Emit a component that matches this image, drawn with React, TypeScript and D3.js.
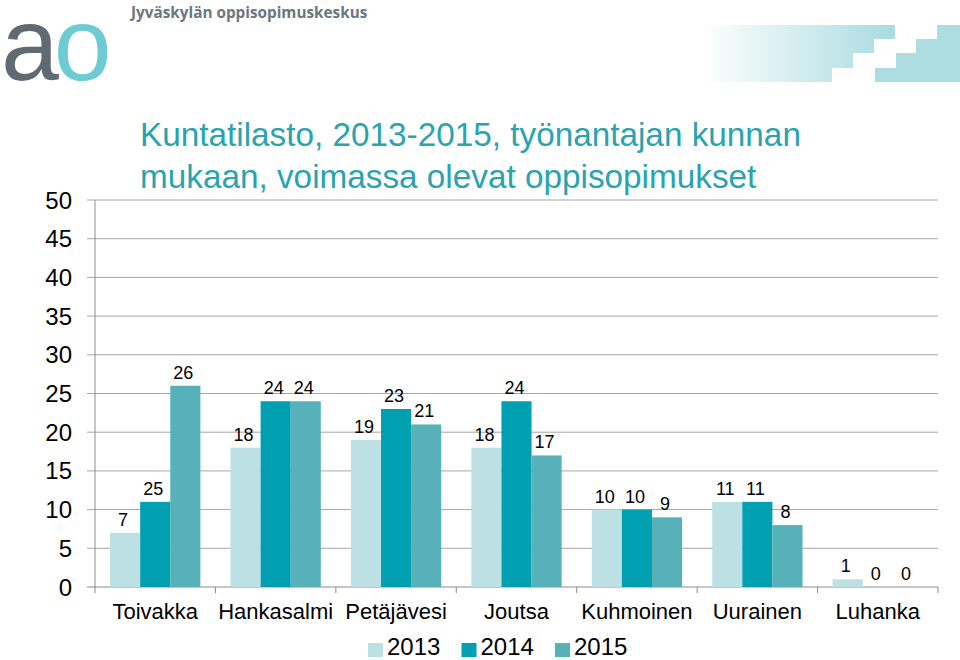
import React from "react";
import * as d3 from "d3";

const categories = ["Toivakka", "Hankasalmi", "Petäjävesi", "Joutsa", "Kuhmoinen", "Uurainen", "Luhanka"];
const series = ["2013", "2014", "2015"];
const values2013 = [7, 18, 19, 18, 10, 11, 1];
const values2014 = [11, 24, 23, 24, 10, 11, 0];
const values2015 = [26, 24, 21, 17, 9, 8, 0];
// data labels as printed in the source chart (Toivakka 2014 is labelled 25)
const labels2013 = ["7", "18", "19", "18", "10", "11", "1"];
const labels2014 = ["25", "24", "23", "24", "10", "11", "0"];
const labels2015 = ["26", "24", "21", "17", "9", "8", "0"];
const yTicks = [0, 5, 10, 15, 20, 25, 30, 35, 40, 45, 50];

const colors = ["#bde0e4", "#00a0b1", "#56b1b9"];
const font = "'Liberation Sans', Arial, sans-serif";

export default function App() {
  const W = 960, H = 660;
  const x0 = 95, x1 = 938, yTop = 200, yBot = 587;
  const x = d3.scaleBand<string>().domain(categories).range([x0, x1]).paddingInner(0).paddingOuter(0);
  const y = d3.scaleLinear().domain([0, 50]).range([yBot, yTop]);
  const inner = d3.scaleBand<string>().domain(series).range([0, x.bandwidth()]).paddingInner(0).paddingOuter(0.5);
  const vals = [values2013, values2014, values2015];
  const labs = [labels2013, labels2014, labels2015];

  return (
    <svg width={W} height={H} style={{ position: "absolute", left: 0, top: 0, background: "#fff" }}>
      <defs>
        <linearGradient id="fadeG" x1="0" x2="1" y1="0" y2="0">
          <stop offset="0" stopColor="#ffffff" />
          <stop offset="1" stopColor="#a9dbe0" />
        </linearGradient>
      </defs>
      <rect x={0} y={0} width={W} height={H} fill="#fff" />
      {/* logo */}
      <text x={1} y={80} fontFamily={font} fontSize={104} fill="#5f6a72" letterSpacing={-5}>
        a<tspan fill="#6ccbd3">o</tspan>
      </text>
      <text x={131} y={18} fontFamily="'Open Sans', sans-serif" fontWeight="bold" fontSize={15.3} fill="#6b767e">
        Jyväskylän oppisopimuskeskus
      </text>
      <polygon
        points="700,25 895,25 895,39 874,39 874,53 853,53 853,68 832,68 832,82 700,82"
        fill="url(#fadeG)"
      />
      <polygon
        points="875,82 875,68 896,68 896,53 916,53 916,39 937,39 937,25 960,25 960,82"
        fill="#aedde1"
      />
      {/* title */}
      <text x={140} y={146} fontFamily={font} fontSize={33.3} fill="#2aa3b1">
        Kuntatilasto, 2013-2015, työnantajan kunnan
      </text>
      <text x={140} y={188} fontFamily={font} fontSize={33.3} fill="#2aa3b1">
        mukaan, voimassa olevat oppisopimukset
      </text>
      {/* gridlines and y axis */}
      {yTicks.map((t) => (
        <g key={t}>
          <line x1={87} x2={x1} y1={y(t)} y2={y(t)} stroke={t === 0 ? "#8c8c8c" : "#a6a6a6"} strokeWidth={1} />
          <text x={72} y={y(t) + 8.5} textAnchor="end" fontFamily={font} fontSize={24} fill="#000">
            {t}
          </text>
        </g>
      ))}
      <line x1={x0} x2={x0} y1={yTop} y2={yBot + 6} stroke="#8c8c8c" />
      {categories.map((c) => (
        <line key={"tk" + c} x1={(x(c) as number) + x.bandwidth()} x2={(x(c) as number) + x.bandwidth()} y1={yBot} y2={yBot + 6} stroke="#8c8c8c" />
      ))}
      {/* bars */}
      {categories.map((c, i) => (
        <g key={c}>
          {series.map((s, k) => {
            const v = vals[k][i];
            const bx = (x(c) as number) + (inner(s) as number);
            return (
              <g key={s}>
                <rect x={bx} y={y(v)} width={inner.bandwidth()} height={yBot - y(v)} fill={colors[k]} />
                <text x={bx + inner.bandwidth() / 2 - 2} y={y(v) - 7} textAnchor="middle" fontFamily={font} fontSize={18} fill="#000">
                  {labs[k][i]}
                </text>
              </g>
            );
          })}
          <text x={(x(c) as number) + x.bandwidth() / 2} y={619} textAnchor="middle" fontFamily={font} fontSize={22} fill="#000">
            {c}
          </text>
        </g>
      ))}
      {/* legend */}
      {series.map((s, k) => {
        const lx = 368 + k * 93.5;
        return (
          <g key={"lg" + s}>
            <rect x={lx} y={643} width={15} height={14} fill={colors[k]} />
            <text x={lx + 19} y={655} fontFamily={font} fontSize={24} fill="#000">
              {s}
            </text>
          </g>
        );
      })}
    </svg>
  );
}
